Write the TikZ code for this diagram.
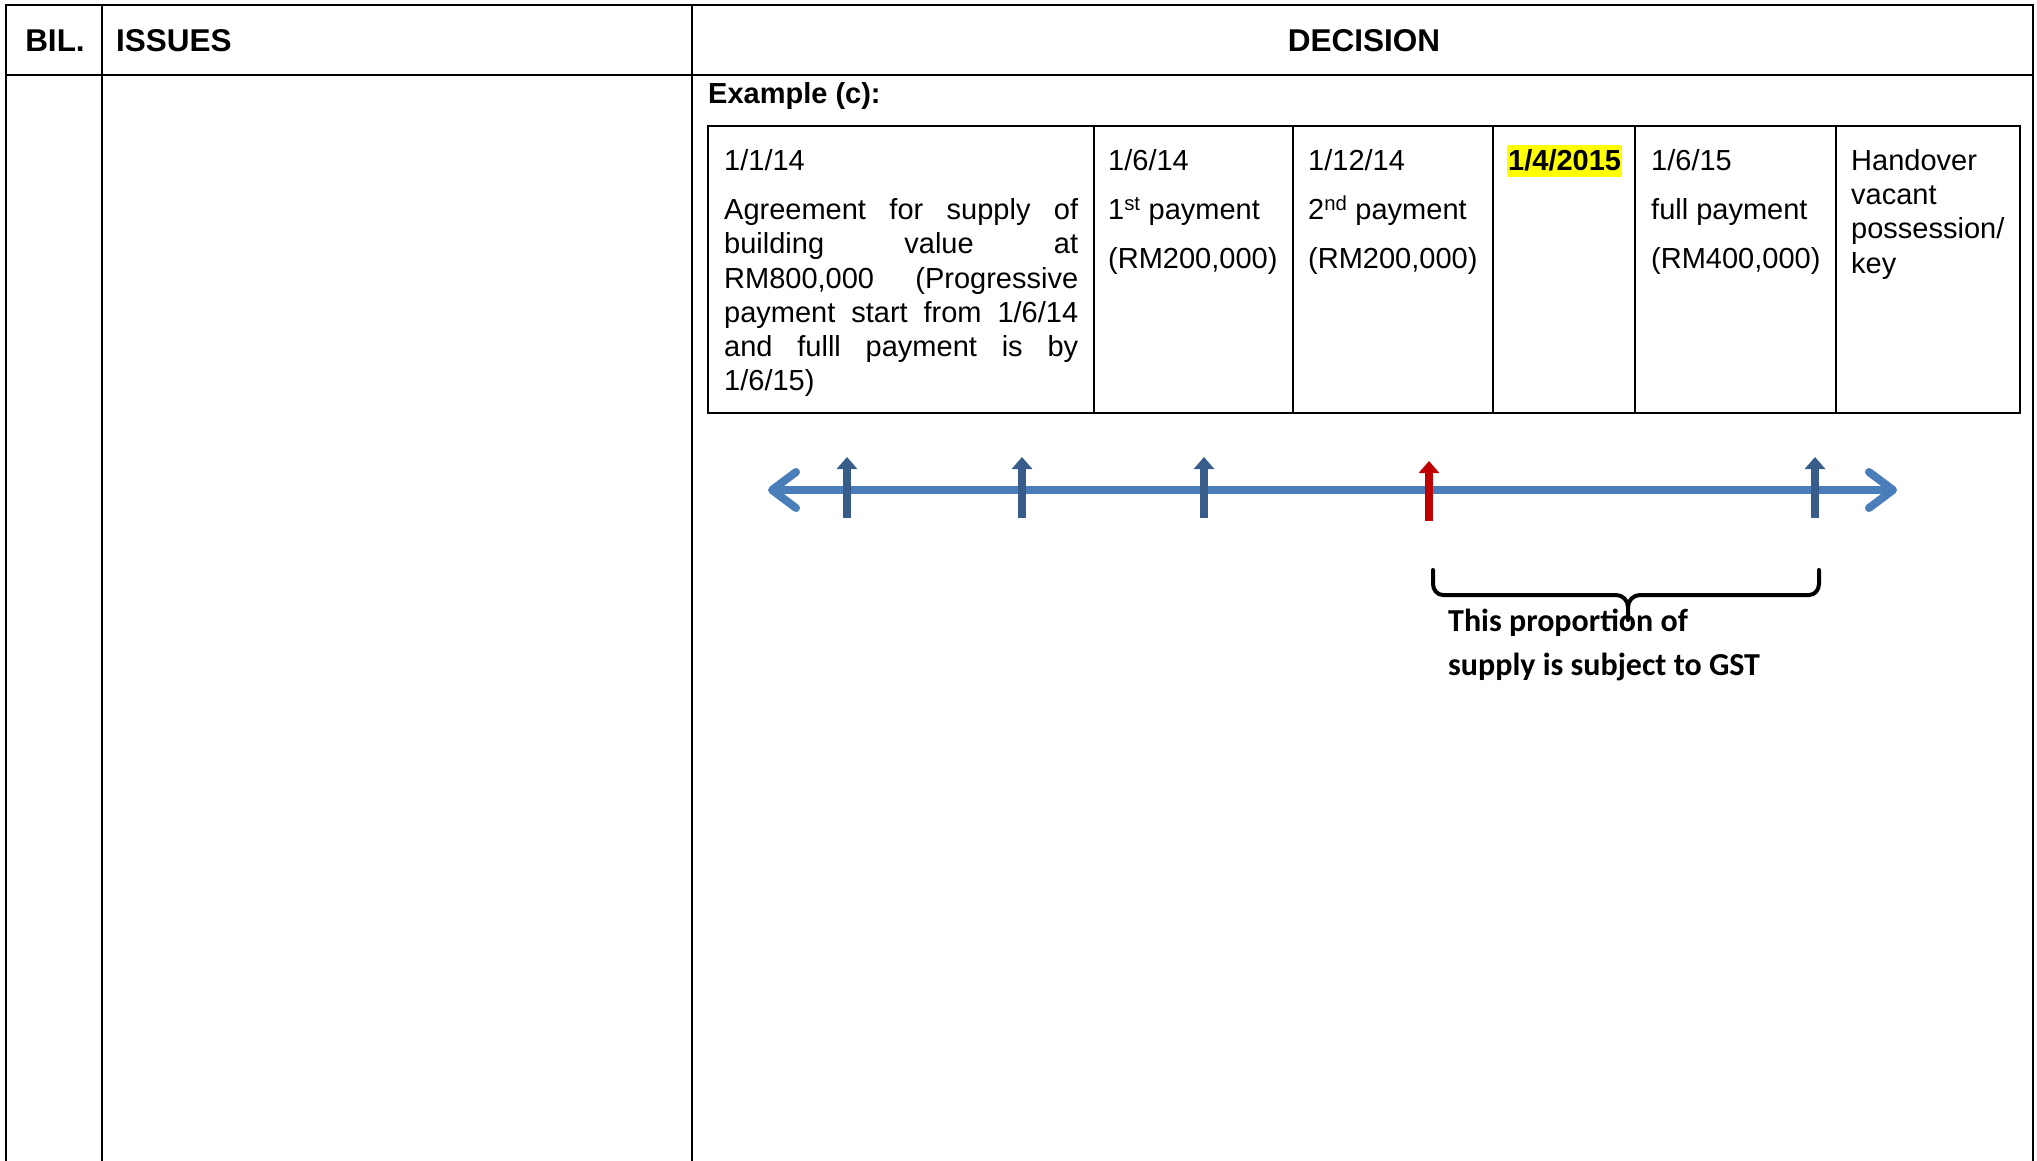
\documentclass[tikz,border=0pt]{standalone}
\usepackage{fontspec}
\setmainfont{Liberation Sans}
\newfontfamily\calib{Carlito}
\usetikzlibrary{arrows.meta}
\definecolor{tlblue}{HTML}{4A7EBB}
\definecolor{tickblue}{HTML}{385D8A}
\definecolor{tickred}{HTML}{C00000}
\definecolor{hlyellow}{HTML}{FFFF00}
\begin{document}
\begin{tikzpicture}[x=1pt,y=-1pt,
  frame/.style={line width=2.2pt,black},
  inframe/.style={line width=2.6pt,black},
  hdr/.style={font=\fontsize{31.5}{36}\selectfont\bfseries,inner sep=0pt},
  body/.style={font=\fontsize{29}{34}\selectfont,inner sep=0pt,anchor=base west},
  tick/.style={line width=8pt,tickblue,-{Triangle[length=12pt,width=20pt]}},
  redtick/.style={line width=8pt,tickred,-{Triangle[length=12pt,width=20pt]}},
  axis/.style={line width=8pt,tlblue,{Straight Barb[length=24pt,width=36pt,round]}-{Straight Barb[length=24pt,width=36pt,round]}},
  bracel/.style={line width=4pt,black,line cap=round,line join=round},
  note/.style={font=\calib\fontsize{32}{40}\selectfont\bfseries,inner sep=0pt,anchor=base west}
]
\useasboundingbox (0,0) rectangle (2037,1161);
\fill[white] (0,0) rectangle (2037,1161);

% outer table
\draw[frame] (6,1161) -- (6,5) -- (2033,5) -- (2033,1161);
\draw[frame] (6,75) -- (2033,75);
\draw[frame] (102,5) -- (102,1161);
\draw[frame] (692,5) -- (692,1161);

\node[hdr,anchor=base] (bil) at (55,52) {BIL.};
\node[hdr,anchor=base west] (iss) at (116,52) {ISSUES};
\node[hdr,anchor=base] (dec) at (1364,52) {DECISION};

\node[body,font=\fontsize{29}{34}\selectfont\bfseries] (ex) at (708,104) {Example (c):};

% inner table
\draw[inframe] (708,126) rectangle (2020,413);
\foreach \xx in {1094,1293,1493,1635,1836} \draw[inframe] (\xx,126) -- (\xx,413);

% cell 1
\node[body] (c1a) at (724,171) {1/1/14};
\node[body] (c1b) at (724,220) {\makebox[354pt][s]{Agreement for supply of}};
\node[body] (c1c) at (724,254) {\makebox[354pt][s]{building value at}};
\node[body] (c1d) at (724,288) {\makebox[354pt][s]{RM800,000 (Progressive}};
\node[body] (c1e) at (724,322) {\makebox[354pt][s]{payment start from 1/6/14}};
\node[body] (c1f) at (724,356) {\makebox[354pt][s]{and fulll payment is by}};
\node[body] (c1g) at (724,390) {1/6/15)};
% cell 2
\node[body] (c2a) at (1108,171) {1/6/14};
\node[body] (c2b) at (1108,220) {1\textsuperscript{st} payment};
\node[body] (c2c) at (1108,269) {(RM200,000)};
% cell 3
\node[body] (c3a) at (1308,171) {1/12/14};
\node[body] (c3b) at (1308,220) {2\textsuperscript{nd} payment};
\node[body] (c3c) at (1308,269) {(RM200,000)};
% cell 4
\node[body,font=\fontsize{29}{34}\selectfont\bfseries,fill=hlyellow,text height=26pt,text depth=6pt,inner xsep=1pt] (c4a) at (1507,171) {1/4/2015};
% cell 5
\node[body] (c5a) at (1651,171) {1/6/15};
\node[body] (c5b) at (1651,220) {full payment};
\node[body] (c5c) at (1651,269) {(RM400,000)};
% cell 6
\node[body] (c6a) at (1851,171) {Handover};
\node[body] (c6b) at (1851,205) {vacant};
\node[body] (c6c) at (1851,239) {possession/};
\node[body] (c6d) at (1851,273) {key};

% timeline
\coordinate (tl) at (768,490);
\coordinate (tr) at (1897,490);
\draw[axis] (tl) -- (tr);
\foreach \nm/\xx in {t1/847,t2/1022,t3/1204,t5/1815}{
  \coordinate (\nm b) at (\xx,518);
  \coordinate (\nm t) at (\xx,457);
  \draw[tick] (\nm b) -- (\nm t);
}
\coordinate (t4b) at (1429,521);
\coordinate (t4t) at (1429,461);
\draw[redtick] (t4b) -- (t4t);

% brace
\coordinate (bl) at (1433,570);
\coordinate (br) at (1819,570);
\coordinate (bm) at (1628,620);
\draw[bracel] (bl) -- (1433,584) to[out=-90,in=180] (1443,595) -- (1616,595) to[out=0,in=90] (1628,607) -- (bm);
\draw[bracel] (br) -- (1819,584) to[out=-90,in=0] (1809,595) -- (1640,595) to[out=180,in=90] (1628,607);

\node[note] (gst1) at (1448,631) {This proportion of};
\node[note] (gst2) at (1448,675) {supply is subject to GST};
\end{tikzpicture}
\end{document}
